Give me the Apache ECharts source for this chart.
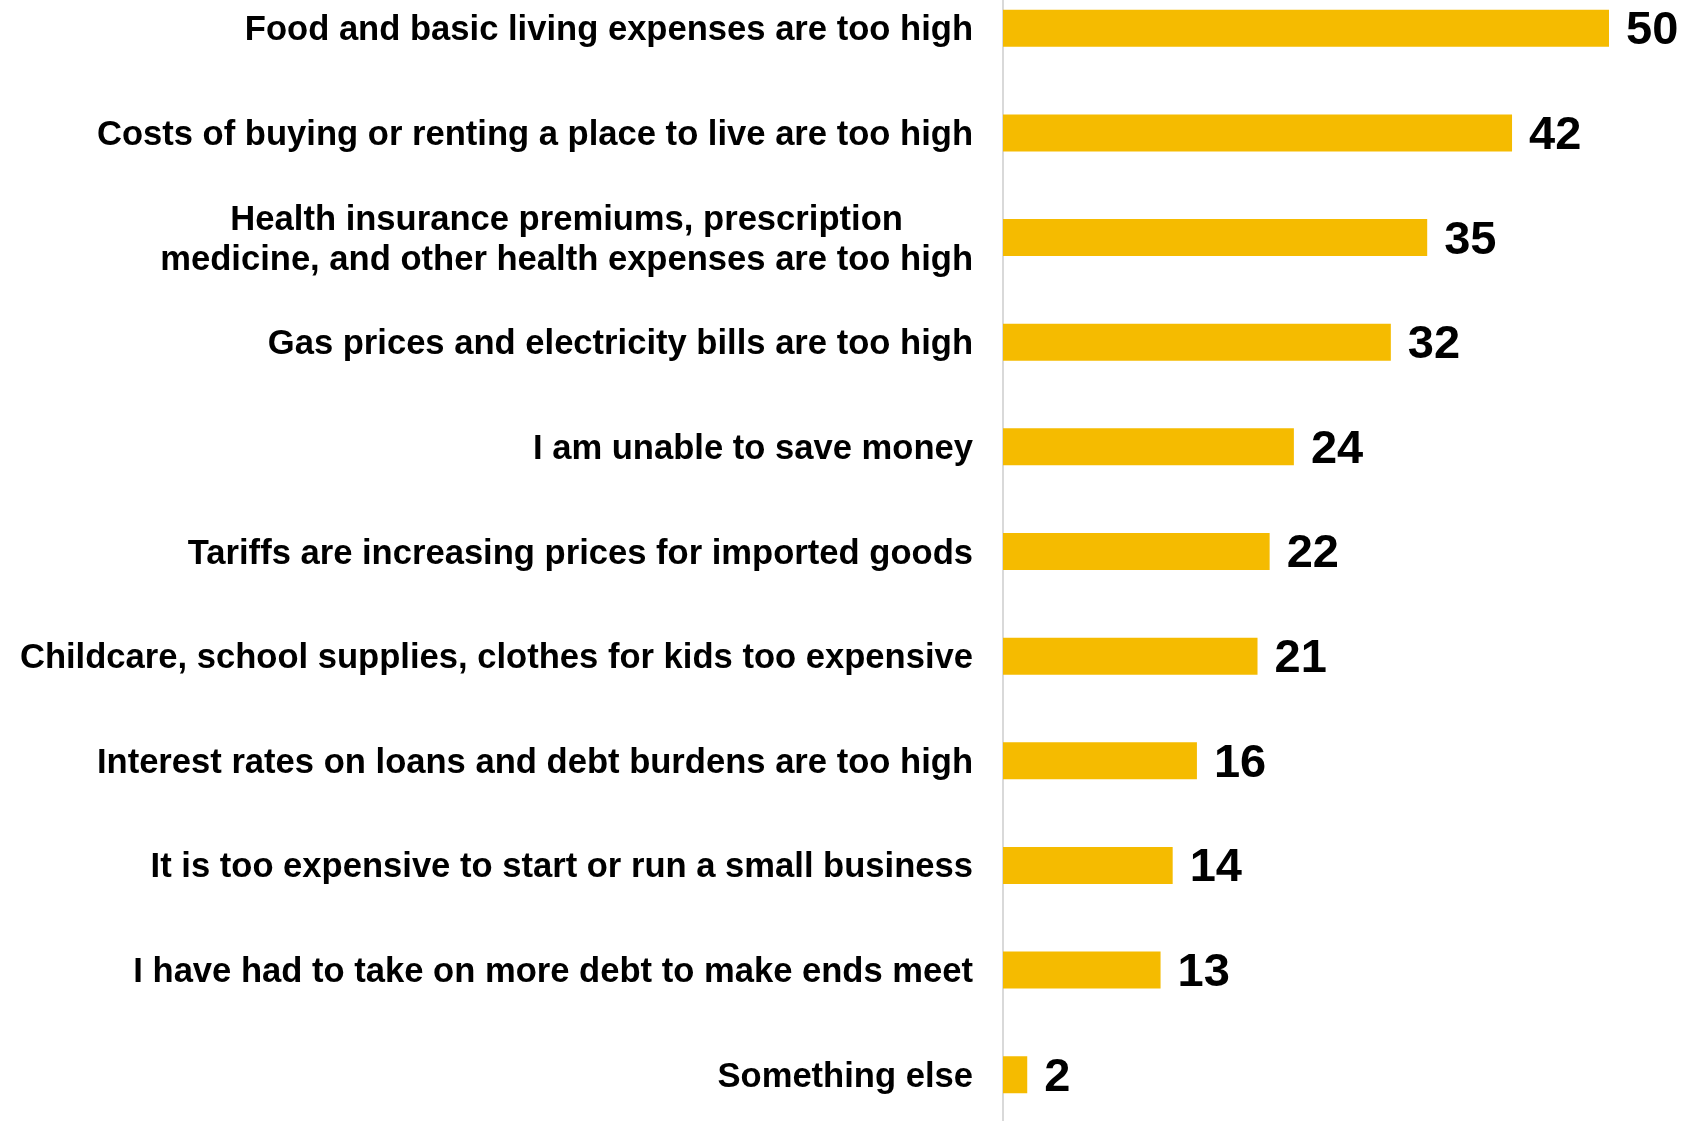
<!DOCTYPE html>
<html>
<head>
<meta charset="utf-8">
<script src="https://cdn.jsdelivr.net/npm/echarts@6/dist/echarts.min.js"></script>
<style>
html,body{margin:0;padding:0;background:#fff;}
#chart{width:1685px;height:1121px;}
</style>
</head>
<body>
<div id="chart"></div>
<script>
const categories = [
  "Food and basic living expenses are too high",
  "Costs of buying or renting a place to live are too high",
  "Health insurance premiums, prescription\nmedicine, and other health expenses are too high",
  "Gas prices and electricity bills are too high",
  "I am unable to save money",
  "Tariffs are increasing prices for imported goods",
  "Childcare, school supplies, clothes for kids too expensive",
  "Interest rates on loans and debt burdens are too high",
  "It is too expensive to start or run a small business",
  "I have had to take on more debt to make ends meet",
  "Something else"
];
const values = [50, 42, 35, 32, 24, 22, 21, 16, 14, 13, 2];

const chart = echarts.init(document.getElementById('chart'));
const FONT = '"Liberation Sans", Arial, sans-serif';
chart.setOption({
  animation: false,
  backgroundColor: '#ffffff',
  grid: { left: 1003, right: 15.4, top: -24, bottom: -6, containLabel: false, outerBoundsMode: 'none' },
  xAxis: { type: 'value', min: 0, max: 55, show: false },
  yAxis: {
    type: 'category',
    data: categories,
    inverse: true,
    axisLine: { show: true, lineStyle: { color: '#d9d9d9', width: 2 } },
    axisTick: { show: false },
    splitLine: { show: false },
    axisLabel: {
      margin: 30,
      padding: [5, 0, 0, 0],
      fontFamily: FONT,
      fontWeight: 'bold',
      fontSize: 34.6,
      color: '#000',
      lineHeight: 40,
      formatter: function (v) {
        return v.split('\n').map(function (s) { return '{c|' + s + '}'; }).join('\n');
      },
      rich: {
        c: { align: 'center', fontFamily: FONT, fontWeight: 'bold', fontSize: 34.6, color: '#000', lineHeight: 40 }
      }
    }
  },
  series: [{
    type: 'bar',
    data: values,
    barWidth: 37,
    itemStyle: { color: '#F5BB00' },
    label: {
      show: true,
      position: 'right',
      distance: 17,
      offset: [0, 3],
      fontFamily: FONT,
      fontWeight: 'bold',
      fontSize: 47,
      color: '#000'
    }
  }]
});
</script>
</body>
</html>
